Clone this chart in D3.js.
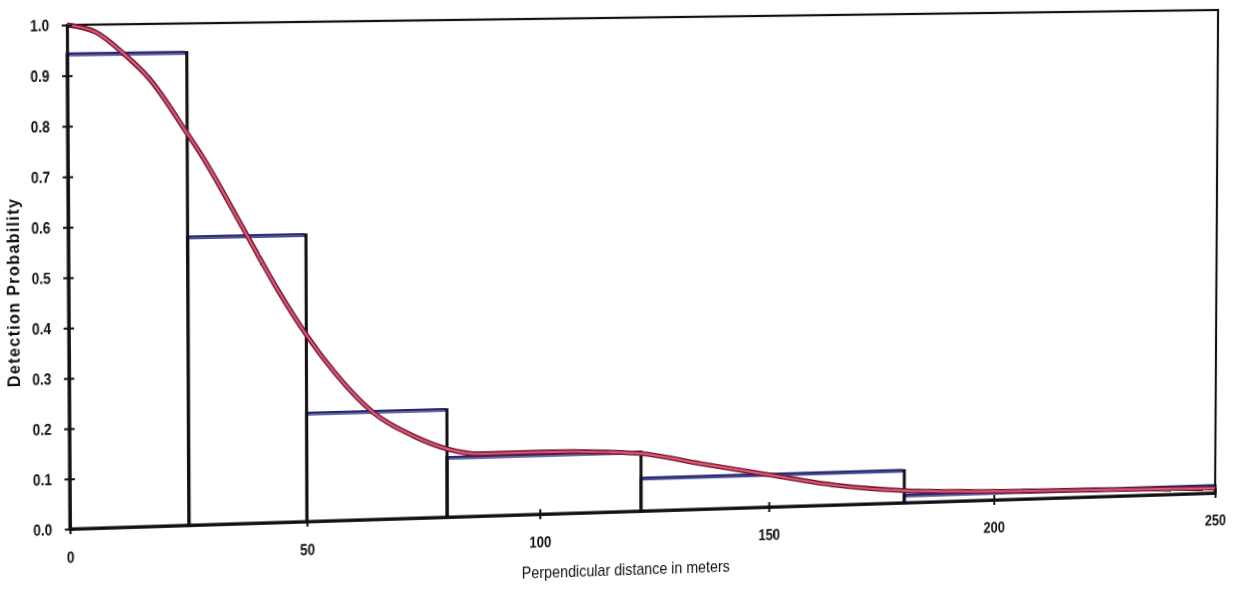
<!DOCTYPE html>
<html>
<head>
<meta charset="utf-8">
<script src="https://cdn.jsdelivr.net/npm/d3@7"></script>
<style>
  html, body { margin: 0; padding: 0; background: #fff; overflow: hidden; }
  svg { display: block; transform-origin: 0 0; }
  .tick text { font-family: "Liberation Sans", Arial, sans-serif; font-size: 16px; font-weight: bold; fill: #111; }
  .axisTitle { fill: #111; font-family: "Liberation Sans", Arial, sans-serif; font-size: 16px; }
</style>
</head>
<body>
<div id="chart"></div>
<script>
// histogram bins (perpendicular distance, m) and their heights
var binEdges = [0, 25, 50, 80, 122, 180, 250];
var binHeights = [0.942, 0.575, 0.217, 0.12, 0.066, 0.015];

// fitted detection curve
var curveDist = [0, 6, 12, 17, 25, 28, 37.6, 44, 50, 56, 64, 73, 80, 87, 100, 115, 122, 135, 150, 165, 180, 200, 225, 250];
var curveProb = [1.0, 0.985, 0.94, 0.893, 0.782, 0.738, 0.575, 0.466, 0.375, 0.298, 0.217, 0.165, 0.138, 0.126, 0.126, 0.122, 0.117, 0.093, 0.066, 0.04, 0.025, 0.018, 0.014, 0.01];

var xTicks = [0, 50, 100, 150, 200, 250];
var yTicks = [0, 0.1, 0.2, 0.3, 0.4, 0.5, 0.6, 0.7, 0.8, 0.9, 1.0];

var svgWidth = 1243;
var svgHeight = 591;

var margin = { top: 18, right: 26, bottom: 79, left: 70 };
var width = svgWidth - margin.left - margin.right;
var height = svgHeight - margin.top - margin.bottom;

// narrow look of the original's Arial Narrow
var squeeze = 0.82;

var svg = d3.select("#chart")
  .append("svg")
  .attr("width", svgWidth)
  .attr("height", svgHeight);

// the original is a slightly skewed scan: map the plot rectangle onto
// the corners of the scanned plot frame (TL, TR, BR, BL)
var scanCorners = [[67, 25], [1218, 10], [1215, 493], [70, 529]];

function squareToQuad(p) {
  var x0 = p[0][0], y0 = p[0][1], x1 = p[1][0], y1 = p[1][1];
  var x2 = p[2][0], y2 = p[2][1], x3 = p[3][0], y3 = p[3][1];
  var dx1 = x1 - x2, dx2 = x3 - x2, dx3 = x0 - x1 + x2 - x3;
  var dy1 = y1 - y2, dy2 = y3 - y2, dy3 = y0 - y1 + y2 - y3;
  var den = dx1 * dy2 - dx2 * dy1;
  var g = (dx3 * dy2 - dx2 * dy3) / den;
  var h = (dx1 * dy3 - dx3 * dy1) / den;
  return {
    a: x1 - x0 + g * x1, b: x3 - x0 + h * x3, c: x0,
    d: y1 - y0 + g * y1, e: y3 - y0 + h * y3, f: y0,
    g: g, h: h
  };
}

var q = squareToQuad(scanCorners);
var L = margin.left, T = margin.top, W = width, H = height;
var m = [
  q.a / W, q.d / W, 0, q.g / W,
  q.b / H, q.e / H, 0, q.h / H,
  0, 0, 1, 0,
  q.c - q.a * L / W - q.b * T / H,
  q.f - q.d * L / W - q.e * T / H,
  0,
  1 - q.g * L / W - q.h * T / H
];
svg.style("transform", "matrix3d(" + m.join(",") + ")");

var chartGroup = svg.append("g")
  .attr("transform", `translate(${margin.left}, ${margin.top})`);

// scales
var xLinearScale = d3.scaleLinear()
  .domain([0, 250])
  .range([0, width]);

var yLinearScale = d3.scaleLinear()
  .domain([0, 1])
  .range([height, 0]);

// plot frame
chartGroup.append("rect")
  .attr("x", 0)
  .attr("y", 0)
  .attr("width", width)
  .attr("height", height)
  .attr("fill", "none")
  .attr("stroke", "#111")
  .attr("stroke-width", 2.2);

// histogram bars
var bins = binHeights.map(function(h, i) {
  return { x0: binEdges[i], x1: binEdges[i + 1], p: h };
});

chartGroup.selectAll(".bar")
  .data(bins)
  .enter()
  .append("rect")
  .attr("class", "bar")
  .attr("x", d => xLinearScale(d.x0))
  .attr("y", d => yLinearScale(d.p))
  .attr("width", d => xLinearScale(d.x1) - xLinearScale(d.x0))
  .attr("height", d => yLinearScale(0) - yLinearScale(d.p))
  .attr("fill", "none")
  .attr("stroke", "#111")
  .attr("stroke-width", 3);

// blue tops of the bars
chartGroup.selectAll(".barTop")
  .data(bins)
  .enter()
  .append("line")
  .attr("class", "barTop")
  .attr("x1", d => xLinearScale(d.x0) + 1.5)
  .attr("x2", d => xLinearScale(d.x1) - 1.5)
  .attr("y1", d => yLinearScale(d.p))
  .attr("y2", d => yLinearScale(d.p))
  .attr("stroke", "#24246e")
  .attr("stroke-width", 3.6);

chartGroup.selectAll(".barTopHi")
  .data(bins)
  .enter()
  .append("line")
  .attr("class", "barTopHi")
  .attr("x1", d => xLinearScale(d.x0) + 2)
  .attr("x2", d => xLinearScale(d.x1) - 2)
  .attr("y1", d => yLinearScale(d.p) + 0.7)
  .attr("y2", d => yLinearScale(d.p) + 0.7)
  .attr("stroke", "#6f6fc0")
  .attr("stroke-width", 0.9);

// detection curve
var curveData = curveDist.map(function(d, i) {
  return { x: d, p: curveProb[i] };
});

var line = d3.line()
  .x(d => xLinearScale(d.x))
  .y(d => yLinearScale(d.p))
  .curve(d3.curveMonotoneX);

chartGroup.append("path")
  .datum(curveData)
  .attr("d", line)
  .attr("fill", "none")
  .attr("stroke", "#6e1430")
  .attr("stroke-width", 4.8);

chartGroup.append("path")
  .datum(curveData)
  .attr("d", line)
  .attr("fill", "none")
  .attr("stroke", "#dc5873")
  .attr("stroke-width", 2.2);

// axes
var bottomAxis = d3.axisBottom(xLinearScale)
  .tickValues(xTicks)
  .tickFormat(d3.format("d"))
  .tickSizeInner(5)
  .tickSizeOuter(0)
  .tickPadding(17);

var leftAxis = d3.axisLeft(yLinearScale)
  .tickValues(yTicks)
  .tickFormat(d3.format(".1f"))
  .tickSizeInner(5)
  .tickSizeOuter(0)
  .tickPadding(12);

var xAxisGroup = chartGroup.append("g")
  .attr("transform", `translate(0, ${height})`)
  .call(bottomAxis);

var yAxisGroup = chartGroup.append("g")
  .call(leftAxis);

// ticks cross the axis lines
xAxisGroup.selectAll(".tick line").attr("y1", -5);
yAxisGroup.selectAll(".tick line").attr("x1", 5);

[xAxisGroup, yAxisGroup].forEach(function(g) {
  g.select(".domain").attr("stroke", "#111").attr("stroke-width", 2.6);
  g.selectAll(".tick line").attr("stroke", "#111").attr("stroke-width", 2);
  g.selectAll(".tick text")
    .attr("transform", `scale(${squeeze}, 1)`)
    .attr("x", function() { return +d3.select(this).attr("x") / squeeze; });
});

// axis labels
chartGroup.append("text")
  .attr("class", "axisTitle")
  .attr("transform", `translate(${-margin.left + 23}, ${height * 0.527}) rotate(-90)`)
  .attr("text-anchor", "middle")
  .style("font-weight", "bold")
  .style("letter-spacing", "1.2px")
  .text("Detection Probability");

chartGroup.append("text")
  .attr("class", "axisTitle")
  .attr("x", width * 0.475)
  .attr("y", height + 64)
  .attr("text-anchor", "middle")
  .attr("textLength", 208)
  .attr("lengthAdjust", "spacingAndGlyphs")
  .text("Perpendicular distance in meters");
</script>
</body>
</html>
